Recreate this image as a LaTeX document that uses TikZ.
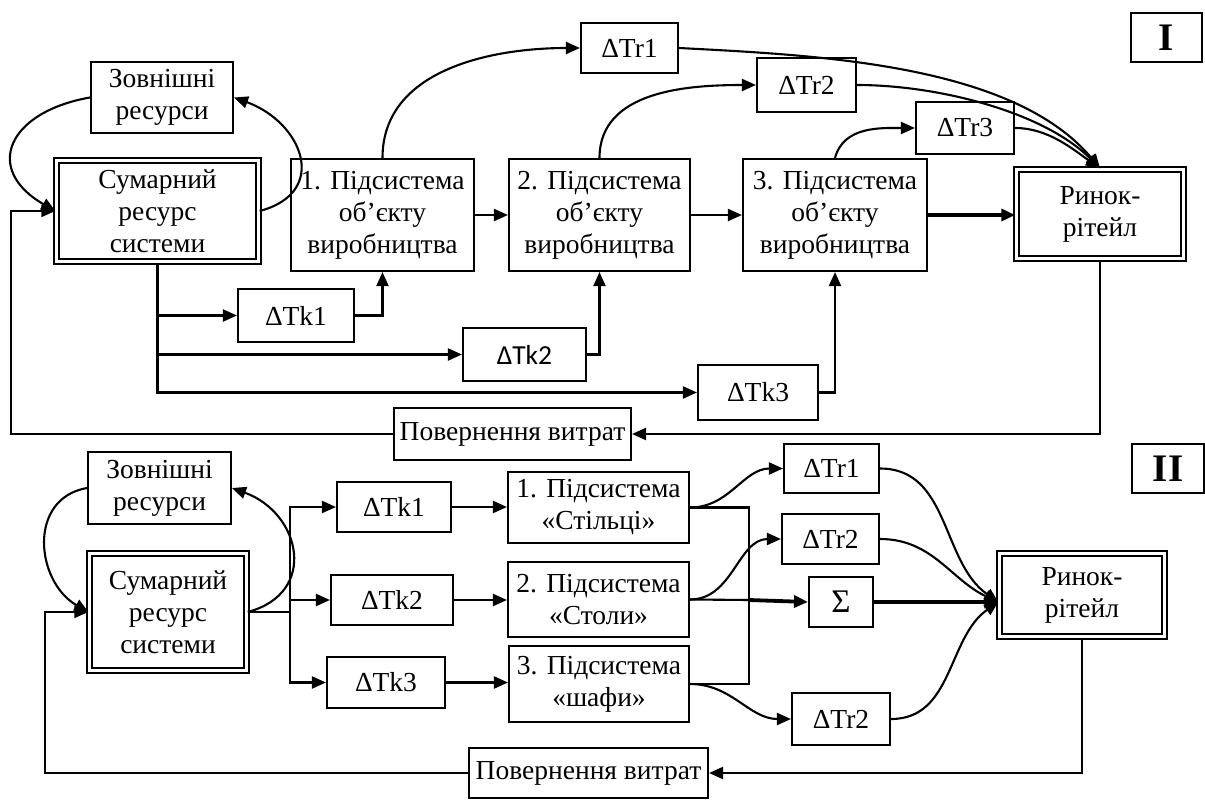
\documentclass[tikz,border=0pt]{standalone}
\usepackage{fontspec}
\setmainfont{Liberation Serif}
\newfontfamily\tksans{Carlito}
\usetikzlibrary{arrows.meta,calc}

\begin{document}
\begin{tikzpicture}[x=1pt,y=1pt,
  line width=2.1pt,
  box/.style={draw, line width=2.1pt, align=center, inner sep=0pt,
    font=\fontsize{27.5}{32}\selectfont},
  dbox/.style={box, double, double distance=2.6pt, line width=2pt},
  wh/.style 2 args={minimum width=#1pt, minimum height=#2pt},
  arr/.style={-{Triangle[length=14pt,width=12pt]}},
  fat/.style={line width=3.8pt},
  roman/.style={draw, line width=2.1pt, inner sep=0pt,
    font=\fontsize{39}{39}\selectfont\bfseries},
]
\useasboundingbox (0,0) rectangle (1205,-800);

% ---------------- Part I ----------------
\node[roman, wh={71}{49}] (rom1) at (1166.5,-37.5) {I};
\node[box, wh={142}{71}] (zovn1) at (162,-97.5) {Зовнішні\\ресурси};
\node[dbox, wh={202.5}{101.5}] (sum1) at (157.5,-211) {Сумарний\\ресурс\\системи};
\node[box, wh={183}{112}] (p1) at (382.5,-215) {1. Підсистема\\об’єкту\\виробництва};
\node[box, wh={181}{112}] (p2) at (599.5,-215) {2. Підсистема\\об’єкту\\виробництва};
\node[box, wh={184}{112}] (p3) at (835,-215) {3. Підсистема\\об’єкту\\виробництва};
\node[dbox, wh={167.5}{89.5}] (rin1) at (1100,-214) {Ринок-\\рітейл};
\node[box, wh={97}{50}] (tr1) at (629.5,-48) {ΔTr1};
\node[box, wh={99}{54}] (tr2) at (806.5,-85) {ΔTr2};
\node[box, wh={98}{52}] (tr3) at (965,-128) {ΔTr3};
\node[box, wh={116}{53}] (tk1) at (296,-315.5) {ΔTk1};
\node[box, wh={123}{53}] (tk2) at (524.5,-354.5) {\tksans ΔTk2};
\node[box, wh={120}{55}] (tk3) at (758,-392.5) {ΔTk3};
\node[box, wh={237}{52}] (pov1) at (512.5,-434) {Повернення витрат};

% chain of subsystems
\draw[arr] (p1.east) -- (p2.west);
\draw[arr] (p2.east) -- (p3.west);
\draw[arr,fat] (p3.east) -- (p3.east -| rin1.west);

% resource trunk to the ΔTk blocks
\draw[arr] (sum1.south) |- (tk3.west);
\draw[arr] (sum1.south |- tk1.west) -- (tk1.west);
\draw[arr] (sum1.south |- tk2.west) -- (tk2.west);
\draw[arr] (tk1.east) -| (p1.south);
\draw[arr] (tk2.east) -| (p2.south);
\draw[arr] (tk3.east) -| (p3.south);

% return of costs
\coordinate (fb1) at (11,-434);
\draw[arr] (rin1.south) |- (pov1.east);
\draw[arr] (pov1.west) -- (fb1) |- (sum1.west);

% external resources loop
\draw[arr] (zovn1.west) to[out=190,in=150,looseness=1.8] (sum1.west);
\draw[arr] (sum1.east) to[out=15,in=-20,looseness=1.6] (zovn1.east);

% ΔTr outputs
\draw[arr] (p1.north) to[out=90,in=180] (tr1.west);
\draw[arr] (p2.north) to[out=90,in=180] (tr2.west);
\draw[arr] (p3.north) to[out=75,in=180] (tr3.west);
\draw[arr] (tr1.east) to[out=-3,in=130,looseness=0.8] (rin1.north);
\draw[arr] (tr2.east) to[out=0,in=135,looseness=0.8] (rin1.north);
\draw[arr] (tr3.east) to[out=0,in=145,looseness=0.9] (rin1.north);

% ---------------- Part II ----------------
\node[roman, wh={72}{49}] (rom2) at (1168,-468.5) {II};
\node[box, wh={143}{72}] (zovn2) at (159.5,-488) {Зовнішні\\ресурси};
\node[dbox, wh={157.5}{117.5}] (sum2) at (168,-612) {Сумарний\\ресурс\\системи};
\node[box, wh={114}{50}] (tk1b) at (394,-507) {ΔTk1};
\node[box, wh={122}{50}] (tk2b) at (392,-600) {ΔTk2};
\node[box, wh={118}{51}] (tk3b) at (386,-682.5) {ΔTk3};
\node[box, wh={181}{71}] (q1) at (598.5,-507.5) {1. Підсистема\\«Стільці»};
\node[box, wh={181}{75}] (q2) at (598.5,-599.5) {2. Підсистема\\«Столи»};
\node[box, wh={180}{76}] (q3) at (599,-684) {3. Підсистема\\«шафи»};
\node[box, wh={95}{49}] (r1b) at (831.5,-468.5) {ΔTr1};
\node[box, wh={97}{50}] (r2b) at (830.5,-539) {ΔTr2};
\node[box, wh={64}{50}, font=\fontsize{33}{33}\selectfont] (sig) at (841,-602) {Σ};
\node[box, wh={98}{52}] (r3b) at (841,-719) {ΔTr2};
\node[dbox, wh={165.5}{83.5}] (rin2) at (1082,-595) {Ринок-\\рітейл};
\node[box, wh={239}{50}] (pov2) at (588.5,-773) {Повернення витрат};

% resource trunk
\coordinate (j2) at (290,-612);
\draw (sum2.east) -- (j2);
\draw[arr] (j2) |- (tk1b.west);
\draw[arr] (j2 |- tk2b.west) -- (tk2b.west);
\draw[arr] (j2) |- (tk3b.west);
\draw[arr] (tk1b.east) -- (q1.west |- tk1b.east);
\draw[arr] (tk2b.east) -- (q2.west |- tk2b.east);
\draw[arr] (tk3b.east) -- (q3.west |- tk3b.east);

% collecting bracket to the sum
\coordinate (br) at (749,-600);
\draw (q1.east) -| (br |- q3.east) -- (q3.east);
\draw (q2.east) -- (br);
\draw[arr,fat] (br) -- (sig.west);

% ΔTr outputs
\draw[arr] (q1.east) to[out=0,in=180] (r1b.west);
\draw[arr] (q2.east) to[out=0,in=180] (r2b.west);
\draw[arr] (q3.east) to[out=0,in=180] (r3b.west);

\coordinate (tip2) at (rin2.west |- sig.east);
\draw[arr] (r1b.east) to[out=0,in=145] (tip2);
\draw[arr] (r2b.east) to[out=0,in=155] (tip2);
\draw[arr,fat] (sig.east) -- (tip2);
\draw[arr] (r3b.east) to[out=0,in=215] (tip2);

% return of costs
\coordinate (fb2) at (45,-773);
\draw[arr] (rin2.south) |- (pov2.east);
\draw[arr] (pov2.west) -- (fb2) |- (sum2.west);

% external resources loop
\draw[arr] (zovn2.west) to[out=190,in=150,looseness=1.25] (sum2.west);
\draw[arr] (sum2.east) to[out=15,in=-20,looseness=1.5] (zovn2.east);
\end{tikzpicture}
\end{document}
